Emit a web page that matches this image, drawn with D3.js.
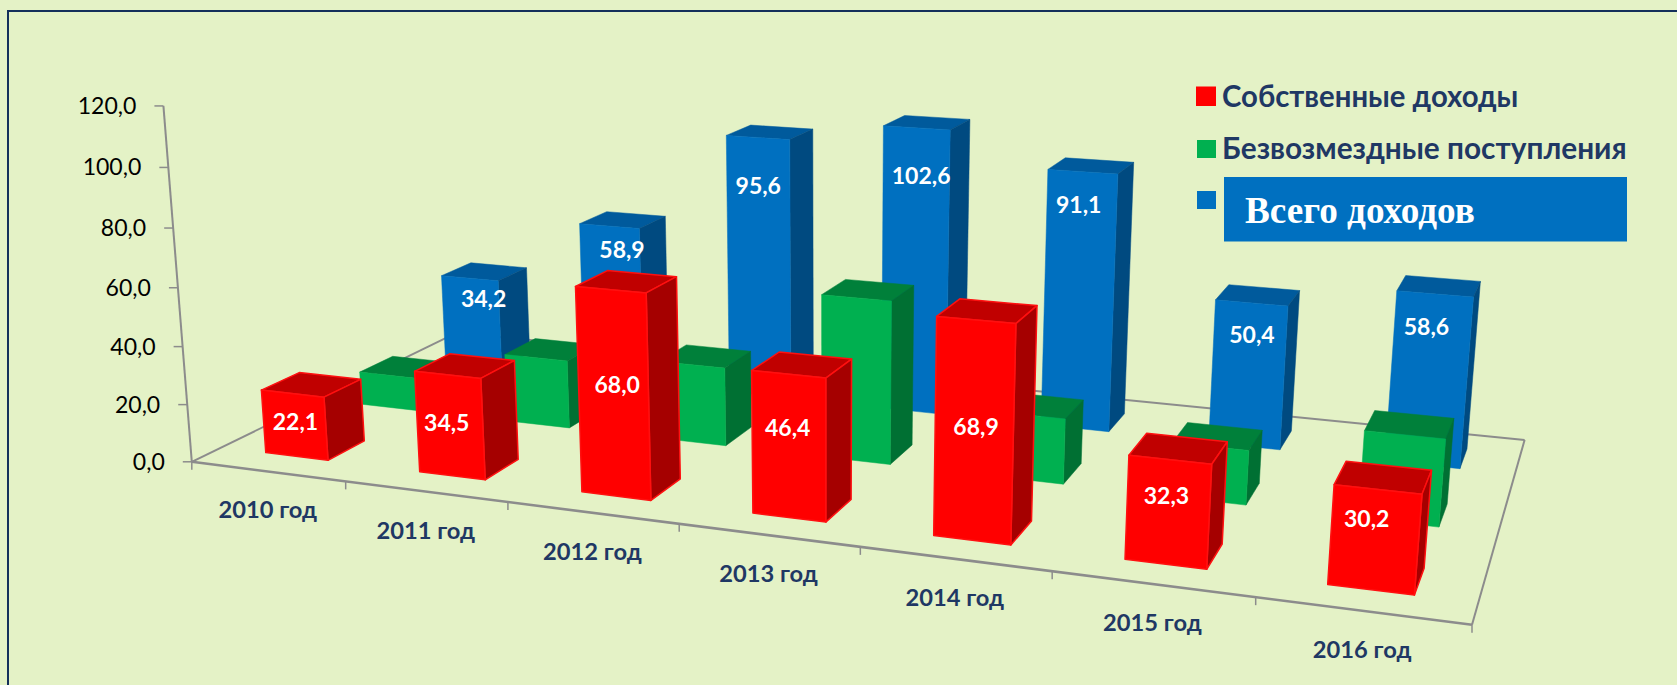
<!DOCTYPE html>
<html><head><meta charset="utf-8">
<script src="https://cdn.jsdelivr.net/npm/d3@7"></script>
<style>html,body{margin:0;padding:0;background:#E4F2C6}svg{display:block}</style>
</head><body><svg id="c" width="1677" height="685"></svg>
<script>
const years=["2010 год","2011 год","2012 год","2013 год","2014 год","2015 год","2016 год"];
const seriesNames=["Собственные доходы","Безвозмездные поступления","Всего доходов"];
const own=[22.1,34.5,68.0,46.4,68.9,32.3,30.2];
const grants=[12.1,24.4,27.6,56.2,22.2,18.1,28.4];
const total=[34.2,58.9,95.6,102.6,91.1,50.4,58.6];
const yTicks=[0,20,40,60,80,100,120];
const seriesValues=[own,grants,total];
const palette=[
 {front:"#FF0000",side:"#A50000",top:"#C00000",edge:"#FF1010"},
 {front:"#00B050",side:"#007033",top:"#00803A",edge:null},
 {front:"#0070C0",side:"#004A80",top:"#005A9C",edge:null}];
const labelFrac=[[.555,.53,.543,.63,.52,.654,.704],null,[.76,.85,.815,.835,.875,.78,.81]];
const labelNudge=[[1,-3,4,-1,2,-2,-9],null,[13,12,0,5,-3,2,-6]];

const fmt=v=>d3.format(".1f")(v).replace(".",",");
const svg=d3.select("#c");
const W=1677,H=685;
svg.append("rect").attr("width",W).attr("height",H).attr("fill","#E4F2C6");
svg.append("path").attr("d",`M8,${H}V11H${W}`).attr("fill","none").attr("stroke","#14305A").attr("stroke-width",2);

// perspective camera: floor homography + vertical vanishing point
const Q=[[191.8,461.8],[1472,624.7],[1524.6,440],[456.9,332.7]];
const [x0,y0]=Q[0],[x1,y1]=Q[1],[x2,y2]=Q[2],[x3,y3]=Q[3];
const dx1=x1-x2,dx2=x3-x2,sx=x0-x1+x2-x3,dy1=y1-y2,dy2=y3-y2,sy=y0-y1+y2-y3;
const den=dx1*dy2-dx2*dy1;
const g=(sx*dy2-dx2*sy)/den,hh=(dx1*sy-sx*dy1)/den;
const a=x1-x0+g*x1,b=x3-x0+hh*x3,c=x0,d=y1-y0+g*y1,e=y3-y0+hh*y3,f=y0;
const VP=[828,8440];
const yScale=d3.scaleLinear().domain([0,120]).range([0,-0.0427]);
function P(u,v,val){const k=yScale(val);
  const w=g*u+hh*v+1+k;
  return [(a*u+b*v+c+k*VP[0])/w,(d*u+e*v+f+k*VP[1])/w];}
const uBand=d3.scaleBand().domain(years).range([0,1]).paddingInner(0.59).paddingOuter(0.295);
const uStep=d3.scaleBand().domain(years).range([0,1]);
const vBand=d3.scaleBand().domain(seriesNames).range([0,1]).paddingInner(0.624).paddingOuter(0.282);

const poly=pts=>pts.map(p=>p.map(n=>n.toFixed(1)).join(",")).join(" ");
const grey="#8C8C8C";
const squeeze=(t,s)=>{const n=t.node();t.attr("textLength",n.getComputedTextLength()*s).attr("lengthAdjust","spacingAndGlyphs");return t;};
const latin="Lato,'Noto Sans',sans-serif";
const axisG=svg.append("g");
[[Q[3],Q[0],2],[Q[0],Q[1],2.6],[Q[1],Q[2],2],[Q[2],Q[3],2]].forEach(([p,q,w])=>{
  axisG.append("line").attr("x1",p[0]).attr("y1",p[1]).attr("x2",q[0]).attr("y2",q[1])
   .attr("stroke",grey).attr("stroke-width",w);});
const yTop=P(0,0,120);
axisG.append("line").attr("x1",Q[0][0]).attr("y1",Q[0][1]).attr("x2",yTop[0]).attr("y2",yTop[1]).attr("stroke",grey).attr("stroke-width",2);
yTicks.forEach(t=>{const p=P(0,0,t);
  axisG.append("line").attr("x1",p[0]-9).attr("y1",p[1]).attr("x2",p[0]).attr("y2",p[1]).attr("stroke",grey).attr("stroke-width",1.5);
  squeeze(svg.append("text").attr("x",p[0]-27).attr("y",p[1]+8).attr("text-anchor","end")
    .attr("font-family",latin).attr("font-size",24).attr("fill","#000").text(fmt(t)),0.96);});
[0,...years.map(y=>uStep(y)+uStep.bandwidth())].forEach(u=>{const p=P(u,0,0);
  axisG.append("line").attr("x1",p[0]).attr("y1",p[1]).attr("x2",p[0]).attr("y2",p[1]+8).attr("stroke",grey).attr("stroke-width",1.5);});
years.forEach(y=>{const p=P(uStep(y)+uStep.bandwidth()/2,0,0);
  squeeze(svg.append("text").attr("x",p[0]).attr("y",p[1]+47).attr("text-anchor","middle")
   .attr("font-family",latin).attr("font-weight",700).attr("font-size",23).attr("fill","#1F3864").text(y),1.03);});

// bars, back row first
const barsG=svg.append("g");
[2,1,0].forEach(si=>{
  const name=seriesNames[si],col=palette[si];
  seriesValues[si].forEach((val,i)=>{
    const u0=uBand(years[i]),u1=u0+uBand.bandwidth(),v0=vBand(name),v1=v0+vBand.bandwidth();
    const g0=barsG.append("g").attr("stroke-linejoin","round");
    const face=(pts,fill)=>g0.append("polygon").attr("points",poly(pts)).attr("fill",fill)
       .attr("stroke",col.edge||fill).attr("stroke-width",col.edge?1.5:0.5);
    face([P(u0,v1,val),P(u1,v1,val),P(u1,v0,val),P(u0,v0,val)],col.top);
    face([P(u1,v0,0),P(u1,v1,0),P(u1,v1,val),P(u1,v0,val)],col.side);
    face([P(u0,v0,0),P(u1,v0,0),P(u1,v0,val),P(u0,v0,val)],col.front);
    if(labelFrac[si]){
      const fr=labelFrac[si][i],um=(u0+u1)/2;
      const p=P(um,v0,val*fr);
      barsG.append("text").attr("x",p[0]+labelNudge[si][i]).attr("y",p[1]+8).attr("text-anchor","middle")
       .attr("font-family",latin).attr("font-weight",700).attr("font-size",23).attr("fill","#fff").text(fmt(val));
    }
  });
});

// legend
const lg=svg.append("g");
lg.append("rect").attr("x",1196).attr("y",86.5).attr("width",20).attr("height",19.5).attr("fill",palette[0].front);
lg.append("rect").attr("x",1197).attr("y",140).attr("width",19).attr("height",18).attr("fill",palette[1].front);
lg.append("rect").attr("x",1197).attr("y",191).attr("width",19).attr("height",18).attr("fill",palette[2].front);
squeeze(lg.append("text").attr("x",1222).attr("y",107).attr("font-family",latin).attr("font-weight",700).attr("font-size",29.5).attr("fill","#1F3864").text(seriesNames[0]),0.993);
squeeze(lg.append("text").attr("x",1222).attr("y",159).attr("font-family",latin).attr("font-weight",700).attr("font-size",29.5).attr("fill","#1F3864").text(seriesNames[1]),1.01);
lg.append("rect").attr("x",1224).attr("y",177).attr("width",403).attr("height",64.5).attr("fill",palette[2].front);
lg.append("text").attr("x",1245).attr("y",223).attr("font-family","'Liberation Serif',serif").attr("font-weight",700).attr("font-size",37.2).attr("fill","#fff").text(seriesNames[2]);
</script></body></html>
